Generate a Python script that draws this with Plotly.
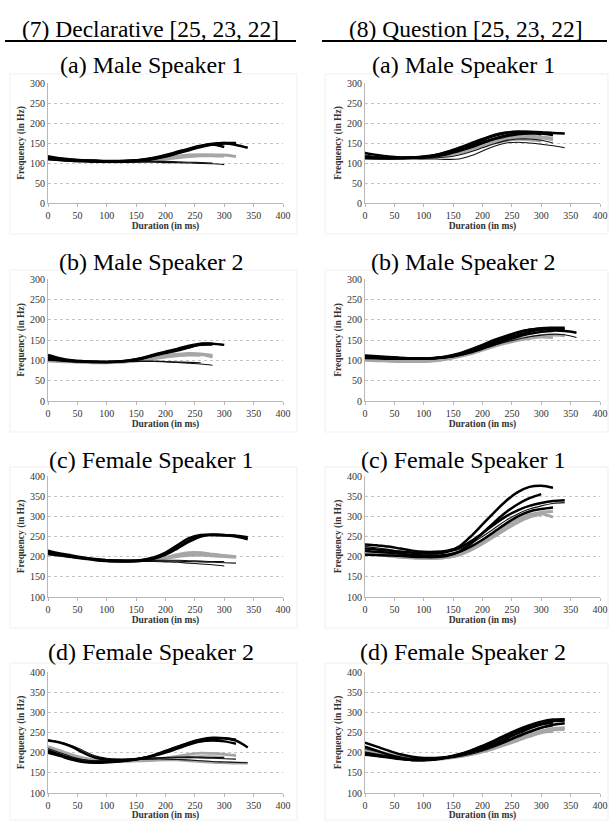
import plotly.graph_objects as go

STEP_MS = 20  # sampling interval of the pitch contours (ms)

COLUMN_HEADERS = ["(7) Declarative [25, 23, 22]", "(8) Question [25, 23, 22]"]
PANEL_TITLES = ["(a) Male Speaker 1", "(b) Male Speaker 2",
                "(c) Female Speaker 1", "(d) Female Speaker 2"]
X_TICKS = [0, 50, 100, 150, 200, 250, 300, 350, 400]
Y_RANGE_MALE = [0, 300]
Y_RANGE_FEMALE = [100, 400]

# ---------- (7) Declarative ----------
DECL_M1_BLACK = [
    [117, 112, 109, 107, 106, 105, 105, 106, 108, 112, 118, 126, 134, 142, 148, 150, 145, 138],
    [112, 109, 107, 106, 105, 104, 104, 105, 107, 111, 117, 125, 134, 142, 147, 150, 150],
    [114, 110, 108, 106, 105, 104, 104, 105, 108, 113, 120, 128, 136, 143, 146, 140],
    [110, 108, 106, 105, 104, 103, 103, 104, 106, 110, 116, 124, 132, 140, 146, 149, 148],
]
DECL_M1_THIN = [
    [108, 106, 104, 103, 102, 102, 102, 102, 102, 102, 101, 101, 100, 99, 98, 96],
    [110, 107, 105, 104, 103, 103, 103, 103, 104, 104, 104, 103, 102, 101, 100],
]
DECL_M1_GRAY = [
    [112, 109, 107, 106, 105, 104, 104, 105, 106, 108, 111, 114, 117, 119, 120, 120, 116],
    [110, 108, 106, 105, 104, 104, 104, 104, 105, 107, 110, 113, 116, 118, 118, 117],
    [111, 108, 106, 105, 104, 103, 103, 104, 106, 109, 113, 117, 120, 121, 120],
]

DECL_M2_BLACK = [
    [113, 105, 100, 98, 97, 96, 97, 99, 104, 112, 120, 126, 132, 140, 141, 138],
    [108, 102, 99, 97, 96, 96, 97, 100, 106, 114, 121, 128, 136, 141, 140],
    [104, 100, 98, 97, 96, 96, 97, 100, 105, 112, 118, 124, 132, 138, 139],
]
DECL_M2_THIN = [
    [100, 99, 98, 97, 97, 97, 97, 97, 97, 97, 96, 95, 93, 91, 88],
    [102, 100, 99, 98, 97, 97, 97, 98, 98, 98, 97, 96, 95, 94],
]
DECL_M2_GRAY = [
    [100, 98, 97, 96, 95, 95, 96, 98, 102, 107, 112, 115, 117, 116, 112],
    [98, 97, 96, 95, 94, 94, 95, 97, 100, 104, 108, 111, 113, 112],
    [101, 99, 97, 96, 95, 95, 96, 98, 101, 105, 109, 113, 115, 114, 108],
]

DECL_F1_BLACK = [
    [215, 208, 203, 198, 194, 191, 190, 190, 192, 198, 210, 228, 246, 254, 254, 253, 252, 248],
    [212, 206, 201, 196, 192, 189, 188, 188, 190, 195, 205, 220, 237, 250, 255, 254, 250, 243],
    [208, 204, 200, 196, 193, 190, 189, 189, 191, 196, 206, 222, 240, 252, 254, 253, 252],
]
DECL_F1_THIN = [
    [210, 205, 200, 196, 193, 191, 190, 189, 188, 188, 187, 186, 184, 182, 180, 177],
    [212, 207, 202, 198, 195, 193, 192, 191, 190, 190, 189, 189, 188, 187, 186, 185, 184],
    [205, 201, 198, 195, 193, 191, 190, 190, 190, 191, 191, 191, 190, 189, 188, 188],
]
DECL_F1_GRAY = [
    [210, 205, 200, 196, 192, 190, 189, 189, 190, 193, 198, 205, 210, 210, 206, 203, 200],
    [207, 203, 199, 195, 192, 190, 189, 189, 190, 192, 196, 200, 203, 204, 202, 200, 198],
    [212, 206, 201, 197, 193, 191, 190, 190, 191, 193, 197, 203, 207, 208, 205, 202],
]

DECL_F2_BLACK = [
    [205, 195, 185, 178, 176, 177, 179, 182, 186, 193, 203, 214, 225, 233, 237, 236, 230, 213],
    [200, 192, 183, 177, 175, 176, 178, 181, 186, 194, 204, 214, 222, 228, 230, 228, 222],
    [230, 225, 215, 200, 188, 183, 182, 183, 186, 192, 200, 210, 220, 228, 233, 236, 232],
]
DECL_F2_THIN = [
    [232, 226, 218, 205, 192, 186, 184, 184, 185, 186, 187, 188, 188, 187, 186, 185, 184],
    [210, 200, 190, 183, 180, 180, 181, 182, 183, 184, 184, 183, 182, 180, 178, 177, 176, 175],
    [205, 196, 188, 182, 180, 180, 181, 183, 185, 187, 188, 189, 190, 189, 188, 188],
]
DECL_F2_GRAY = [
    [215, 205, 195, 187, 182, 180, 180, 181, 182, 184, 187, 191, 196, 199, 198, 196, 193],
    [210, 200, 192, 186, 182, 180, 180, 180, 181, 182, 184, 186, 188, 190, 190, 188],
    [208, 198, 190, 184, 180, 178, 178, 179, 180, 181, 182, 182, 180, 178, 176, 175, 174, 174],
]

# ---------- (8) Question ----------
QUES_M1_BLACK = [
    [112, 112, 112, 113, 114, 116, 120, 127, 136, 146, 157, 168, 175, 178, 178, 177, 175, 174],
    [115, 113, 112, 112, 113, 115, 120, 128, 138, 149, 160, 170, 176, 178, 177, 175, 172],
    [125, 120, 116, 114, 114, 115, 118, 124, 132, 141, 151, 161, 169, 174, 175, 172],
    [113, 112, 112, 112, 113, 114, 117, 122, 130, 139, 150, 160, 167, 172, 174, 174, 170],
]
QUES_M1_THIN = [
    [118, 115, 113, 112, 111, 110, 110, 109, 110, 118, 130, 142, 150, 152, 150, 147, 143, 138],
    [120, 116, 114, 112, 112, 112, 113, 115, 120, 128, 138, 148, 156, 160, 160, 157, 150],
]
QUES_M1_GRAY = [
    [115, 113, 112, 112, 112, 113, 116, 121, 128, 137, 146, 154, 160, 163, 164, 162, 158],
    [114, 112, 111, 111, 112, 113, 115, 119, 125, 133, 142, 150, 156, 159, 158, 155],
    [116, 113, 112, 112, 112, 114, 118, 124, 132, 141, 150, 158, 164, 167, 167, 165, 162],
]

QUES_M2_BLACK = [
    [110, 109, 107, 106, 105, 105, 106, 109, 115, 124, 135, 147, 158, 168, 175, 179, 180, 180],
    [108, 107, 106, 105, 105, 105, 106, 110, 117, 127, 138, 150, 160, 169, 175, 178, 177],
    [112, 110, 108, 106, 105, 105, 106, 108, 113, 121, 131, 142, 153, 162, 170, 175, 177, 176],
    [106, 105, 104, 104, 104, 104, 105, 108, 113, 120, 129, 139, 149, 158, 165, 170, 173, 172, 168],
]
QUES_M2_THIN = [
    [107, 106, 105, 104, 104, 104, 105, 108, 113, 120, 128, 137, 145, 152, 158, 162, 164, 163, 156],
]
QUES_M2_GRAY = [
    [102, 100, 99, 98, 98, 98, 100, 104, 110, 118, 127, 136, 144, 151, 156, 160, 162, 162],
    [100, 99, 98, 97, 97, 97, 99, 103, 109, 116, 125, 134, 142, 149, 154, 157, 156],
    [104, 102, 100, 99, 99, 99, 101, 105, 111, 119, 128, 137, 145, 152, 157, 161, 163, 160],
]

QUES_F1_BLACK = [
    [220, 218, 215, 212, 210, 208, 208, 212, 225, 250, 280, 310, 338, 360, 373, 376, 371],
    [205, 204, 203, 202, 200, 199, 199, 202, 212, 232, 258, 285, 310, 330, 345, 355],
    [230, 228, 225, 220, 215, 212, 212, 215, 222, 238, 258, 280, 300, 315, 326, 333, 338, 340],
    [215, 212, 210, 207, 205, 203, 203, 205, 212, 225, 242, 262, 282, 300, 312, 318, 322],
]
QUES_F1_THIN = [
    [225, 222, 218, 214, 211, 210, 210, 212, 218, 232, 250, 270, 290, 306, 318, 326, 332, 334],
]
QUES_F1_GRAY = [
    [212, 208, 204, 200, 198, 196, 196, 198, 205, 218, 235, 255, 275, 292, 303, 306, 298],
    [208, 205, 202, 199, 197, 196, 196, 198, 204, 216, 232, 250, 268, 285, 298, 305],
    [210, 206, 202, 199, 197, 196, 196, 198, 206, 220, 238, 258, 278, 294, 304, 310, 312],
]

QUES_F2_BLACK = [
    [215, 205, 195, 187, 182, 181, 183, 188, 195, 205, 217, 230, 244, 257, 268, 277, 282, 283],
    [200, 195, 190, 185, 182, 182, 184, 189, 196, 205, 216, 228, 240, 252, 263, 272, 278, 280],
    [195, 192, 188, 184, 182, 182, 184, 188, 194, 202, 212, 223, 235, 248, 260, 270, 275],
    [225, 215, 205, 196, 190, 187, 187, 189, 193, 200, 208, 218, 229, 241, 252, 262, 269, 273],
]
QUES_F2_THIN = [
    [210, 203, 196, 190, 186, 184, 184, 186, 190, 196, 204, 214, 226, 238, 250, 260, 266],
]
QUES_F2_GRAY = [
    [205, 199, 193, 188, 184, 183, 184, 187, 191, 197, 204, 213, 223, 234, 245, 254, 260, 262],
    [200, 196, 191, 186, 183, 182, 183, 186, 190, 196, 203, 212, 222, 232, 242, 250, 252],
    [212, 204, 197, 191, 187, 185, 185, 187, 190, 195, 202, 210, 220, 230, 240, 249, 256, 258],
]

PANELS = [
    # (row, col, gray, thin, thick, yrange)
    (1, 1, DECL_M1_GRAY, DECL_M1_THIN, DECL_M1_BLACK, Y_RANGE_MALE),
    (1, 2, QUES_M1_GRAY, QUES_M1_THIN, QUES_M1_BLACK, Y_RANGE_MALE),
    (2, 1, DECL_M2_GRAY, DECL_M2_THIN, DECL_M2_BLACK, Y_RANGE_MALE),
    (2, 2, QUES_M2_GRAY, QUES_M2_THIN, QUES_M2_BLACK, Y_RANGE_MALE),
    (3, 1, DECL_F1_GRAY, DECL_F1_THIN, DECL_F1_BLACK, Y_RANGE_FEMALE),
    (3, 2, QUES_F1_GRAY, QUES_F1_THIN, QUES_F1_BLACK, Y_RANGE_FEMALE),
    (4, 1, DECL_F2_GRAY, DECL_F2_THIN, DECL_F2_BLACK, Y_RANGE_FEMALE),
    (4, 2, QUES_F2_GRAY, QUES_F2_THIN, QUES_F2_BLACK, Y_RANGE_FEMALE),
]

W, H = 610, 821
SERIF = "Liberation Serif"

# pixel layout of the plot areas
COL_X = {1: (48, 283), 2: (365, 600)}
ROW_Y = {1: (83, 203), 2: (279, 401), 3: (476, 597), 4: (672, 793)}
TITLE_Y = {1: 65, 2: 262, 3: 460, 4: 652}
TITLE_CX = {1: 151, 2: 463}
BOX_X = {1: (10, 297), 2: (325, 608)}
BOX_Y = {1: (74, 234), 2: (270, 432), 3: (467, 628), 4: (663, 820)}

fig = go.Figure()
layout = dict(
    width=W, height=H, margin=dict(l=0, r=0, t=0, b=0, autoexpand=False),
    paper_bgcolor="white", plot_bgcolor="white", showlegend=False,
    annotations=[], shapes=[],
)

for i, (r, c, gray, thin, thick, yr) in enumerate(PANELS):
    n = i + 1
    xa = "xaxis" if n == 1 else f"xaxis{n}"
    ya = "yaxis" if n == 1 else f"yaxis{n}"
    xref = "x" if n == 1 else f"x{n}"
    yref = "y" if n == 1 else f"y{n}"
    x0, x1 = COL_X[c]
    y0, y1 = ROW_Y[r]
    # faint frame around each chart
    bx0, bx1 = BOX_X[c]
    by0, by1 = BOX_Y[r]
    layout["shapes"].append(dict(type="rect", xref="paper", yref="paper", layer="below",
                                 x0=bx0 / W, x1=bx1 / W, y0=1 - by1 / H, y1=1 - by0 / H,
                                 line=dict(color="#efefef", width=1)))
    layout[xa] = dict(
        domain=[x0 / W, x1 / W], anchor=yref, range=[0, 400], automargin=False,
        tickvals=X_TICKS, ticks="outside", ticklen=3, tickcolor="#b8b8b8",
        showline=True, linecolor="#b8b8b8", linewidth=1, showgrid=False, zeroline=False,
        tickfont=dict(family=SERIF, size=10, color="#333"),
        title=dict(text="<b>Duration (in ms)</b>", font=dict(family=SERIF, size=9.5, color="#333"), standoff=0),
        fixedrange=True,
    )
    layout[ya] = dict(
        domain=[1 - y1 / H, 1 - y0 / H], anchor=xref, range=yr, automargin=False,
        dtick=50, ticks="", showline=True, linecolor="#b8b8b8", linewidth=1,
        showgrid=True, gridcolor="#c4c4c4", griddash="3px,3px", gridwidth=1, zeroline=False,
        tickfont=dict(family=SERIF, size=10, color="#333"),
        title=dict(text="<b>Frequency (in Hz)</b>", font=dict(family=SERIF, size=9.5, color="#333"), standoff=3),
        fixedrange=True,
    )
    for series, color, width in ((gray, "#a6a6a6", 2.8), (thin, "#111", 1.1), (thick, "#000", 2.5)):
        for ys in series:
            xs = [k * STEP_MS for k in range(len(ys))]
            fig.add_trace(go.Scatter(x=xs, y=ys, mode="lines", xaxis=xref, yaxis=yref,
                                     line=dict(color=color, width=width, shape="spline", smoothing=1.0),
                                     hoverinfo="skip"))
    layout["annotations"].append(dict(
        text=PANEL_TITLES[r - 1], xref="paper", yref="paper",
        x=TITLE_CX[c] / W, y=1 - TITLE_Y[r] / H, xanchor="center", yanchor="middle",
        showarrow=False, font=dict(family=SERIF, size=24, color="#000")))

# column headers with underline
for c, (hx, lx0, lx1) in enumerate([(150, 5, 296), (466, 322, 607)]):
    layout["annotations"].append(dict(
        text=COLUMN_HEADERS[c], xref="paper", yref="paper", x=hx / W, y=1 - 29 / H,
        xanchor="center", yanchor="middle", showarrow=False,
        font=dict(family=SERIF, size=23.5, color="#000")))
    layout["shapes"].append(dict(type="line", xref="paper", yref="paper",
                                 x0=lx0 / W, x1=lx1 / W, y0=1 - 41 / H, y1=1 - 41 / H,
                                 line=dict(color="#000", width=2)))

fig.update_layout(**layout)
fig.write_html(
    "out.html",
    config={"displayModeBar": False},
    post_script="document.body.style.margin='0';document.body.style.overflow='hidden';",
)
